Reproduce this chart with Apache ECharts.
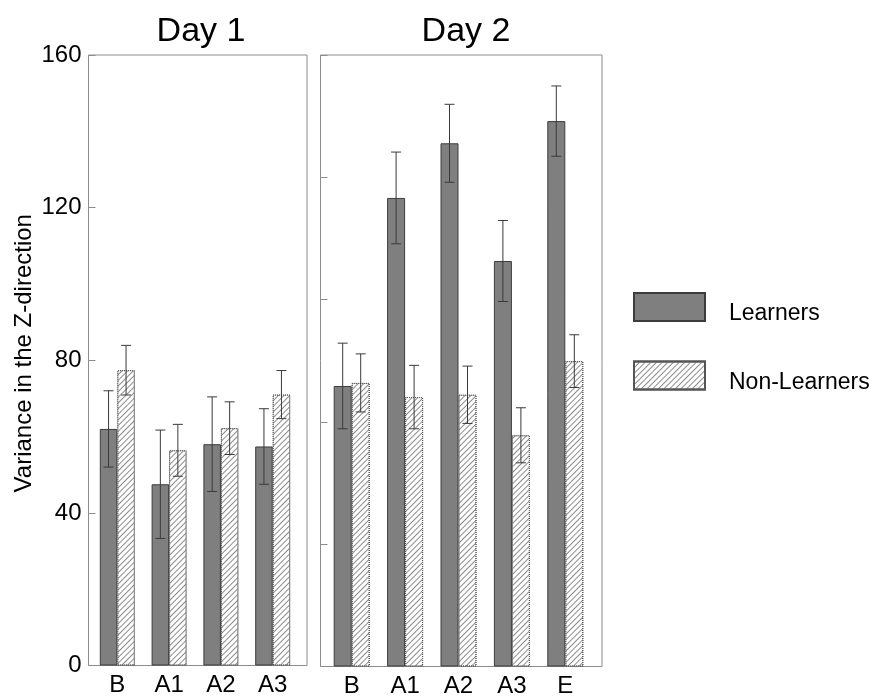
<!DOCTYPE html>
<html>
<head>
<meta charset="utf-8">
<script src="https://cdn.jsdelivr.net/npm/echarts@6/dist/echarts.min.js"></script>
<style>
html,body{margin:0;padding:0;background:#fff;}
#c{width:881px;height:699px;}
</style>
</head>
<body>
<div id="c"></div>
<script>
// ---- data ----
var day1Categories = ['B', 'A1', 'A2', 'A3'];
var day2Categories = ['B', 'A1', 'A2', 'A3', 'E'];
var learnersDay1 = [62.0, 47.5, 58.0, 57.4];
var learnersDay1Err = [10.0, 14.2, 12.4, 9.9];
var nonLearnersDay1 = [77.4, 56.4, 62.2, 71.0];
var nonLearnersDay1Err = [6.5, 6.8, 6.9, 6.3];
var learnersDay2 = [73.4, 122.6, 136.9, 106.1, 142.7];
var learnersDay2Err = [11.2, 12.0, 10.2, 10.6, 9.2];
var nonLearnersDay2 = [74.2, 70.5, 71.1, 60.5, 79.9];
var nonLearnersDay2Err = [7.6, 8.3, 7.5, 7.2, 6.9];
var yTicksDay1 = [0, 40, 80, 120, 160];

var FONT = '"Liberation Sans", Arial, sans-serif';
var BW1 = 17.5, BW2 = 18;

var learnStyle = { color: '#7f7f7f', borderColor: '#3c3c3c', borderWidth: 1 };
var nonStyle = {
  color: '#ffffff', borderColor: '#555555', borderWidth: 1, borderType: 'dotted',
  decal: { symbol: 'rect', symbolSize: 1, dashArrayX: [1, 0], dashArrayY: [1, 3], rotation: -Math.PI / 4, color: '#8c8c8c' }
};

function errData(vals, errs) {
  return vals.map(function (v, i) { return [i, v, errs[i]]; });
}
function errRender(sign, bw) {
  return function (params, api) {
    var i = api.value(0), v = api.value(1), e = api.value(2);
    var hi = api.coord([i, v + e]);
    var lo = api.coord([i, v - e]);
    var x = hi[0] + sign * bw / 2;
    var cap = 5;
    var st = { stroke: '#3a3a3a', lineWidth: 1 };
    return {
      type: 'group',
      children: [
        { type: 'line', shape: { x1: x, y1: hi[1], x2: x, y2: lo[1] }, style: st },
        { type: 'line', shape: { x1: x - cap, y1: hi[1], x2: x + cap, y2: hi[1] }, style: st },
        { type: 'line', shape: { x1: x - cap, y1: lo[1], x2: x + cap, y2: lo[1] }, style: st }
      ]
    };
  };
}

var chart = echarts.init(document.getElementById('c'), null, { renderer: 'canvas' });
var option = {
  animation: false,
  backgroundColor: '#ffffff',
  title: [
    { text: 'Day 1', left: 196, top: 10, textAlign: 'center', textStyle: { fontFamily: FONT, fontSize: 34, fontWeight: 'normal', color: '#000' } },
    { text: 'Day 2', left: 461, top: 10, textAlign: 'center', textStyle: { fontFamily: FONT, fontSize: 34, fontWeight: 'normal', color: '#000' } }
  ],
  legend: {
    orient: 'vertical', left: 633, top: 287, padding: 0,
    itemWidth: 71, itemHeight: 28, itemGap: 30, icon: 'rect',
    data: ['Learners', 'Non-Learners'],
    formatter: function (name) { return '{s|}\n{t|' + name + '}'; },
    textStyle: {
      fontFamily: FONT, fontSize: 23, color: '#000', padding: [0, 0, 0, 19],
      rich: {
        s: { height: 14, lineHeight: 14, fontSize: 10 },
        t: { fontFamily: FONT, fontSize: 23, color: '#000', lineHeight: 26 }
      }
    }
  },
  grid: [
    { left: 88.5, top: 55, width: 218.5, height: 610.5, show: true, borderColor: '#8c8c8c', borderWidth: 1, backgroundColor: 'transparent' },
    { left: 320.5, top: 55, width: 281.5, height: 611.5, show: true, borderColor: '#8c8c8c', borderWidth: 1, backgroundColor: 'transparent' },
    { left: 91.4, top: 55, width: 207.2, height: 610.5 },
    { left: 325, top: 55, width: 267, height: 611.5 }
  ],
  xAxis: [
    { gridIndex: 0, type: 'value', show: false, min: 0, max: 1 },
    { gridIndex: 1, type: 'value', show: false, min: 0, max: 1 },
    { gridIndex: 2, type: 'category', data: day1Categories, axisLine: { show: false }, axisTick: { show: false },
      axisLabel: { fontFamily: FONT, fontSize: 24, color: '#000', margin: 8 } },
    { gridIndex: 3, type: 'category', data: day2Categories, axisLine: { show: false }, axisTick: { show: false },
      axisLabel: { fontFamily: FONT, fontSize: 24, color: '#000', margin: 8 } }
  ],
  yAxis: [
    { gridIndex: 0, type: 'value', min: yTicksDay1[0], max: yTicksDay1[yTicksDay1.length - 1], interval: 40,
      axisLine: { show: false }, splitLine: { show: false },
      axisTick: { show: true, inside: true, length: 7, lineStyle: { color: '#8c8c8c' } },
      axisLabel: { fontFamily: FONT, fontSize: 24, color: '#000', margin: 7 },
      name: 'Variance in the Z-direction', nameLocation: 'middle', nameGap: 52,
      nameTextStyle: { fontFamily: FONT, fontSize: 24, color: '#000', padding: [0, 0, 0, 14] } },
    { gridIndex: 1, type: 'value', min: 0, max: 160, interval: 32,
      axisLine: { show: false }, splitLine: { show: false }, axisLabel: { show: false },
      axisTick: { show: true, inside: true, length: 7, lineStyle: { color: '#8c8c8c' } } },
    { gridIndex: 2, type: 'value', min: 0, max: 160, show: false, splitLine: { show: false } },
    { gridIndex: 3, type: 'value', min: 0, max: 160, show: false, splitLine: { show: false } }
  ],
  series: [
    { name: 'Learners', type: 'bar', xAxisIndex: 2, yAxisIndex: 2, data: learnersDay1, barWidth: BW1, barGap: '0%', itemStyle: learnStyle },
    { name: 'Non-Learners', type: 'bar', xAxisIndex: 2, yAxisIndex: 2, data: nonLearnersDay1, barWidth: BW1, barGap: '0%', itemStyle: nonStyle },
    { name: 'Learners', type: 'bar', xAxisIndex: 3, yAxisIndex: 3, data: learnersDay2, barWidth: BW2, barGap: '0%', itemStyle: learnStyle },
    { name: 'Non-Learners', type: 'bar', xAxisIndex: 3, yAxisIndex: 3, data: nonLearnersDay2, barWidth: BW2, barGap: '0%', itemStyle: nonStyle },
    { type: 'custom', xAxisIndex: 2, yAxisIndex: 2, z: 5, data: errData(learnersDay1, learnersDay1Err), renderItem: errRender(-1, BW1), encode: { x: 0, y: 1 } },
    { type: 'custom', xAxisIndex: 2, yAxisIndex: 2, z: 5, data: errData(nonLearnersDay1, nonLearnersDay1Err), renderItem: errRender(1, BW1), encode: { x: 0, y: 1 } },
    { type: 'custom', xAxisIndex: 3, yAxisIndex: 3, z: 5, data: errData(learnersDay2, learnersDay2Err), renderItem: errRender(-1, BW2), encode: { x: 0, y: 1 } },
    { type: 'custom', xAxisIndex: 3, yAxisIndex: 3, z: 5, data: errData(nonLearnersDay2, nonLearnersDay2Err), renderItem: errRender(1, BW2), encode: { x: 0, y: 1 } }
  ]
};
chart.setOption(option);
</script>
</body>
</html>
